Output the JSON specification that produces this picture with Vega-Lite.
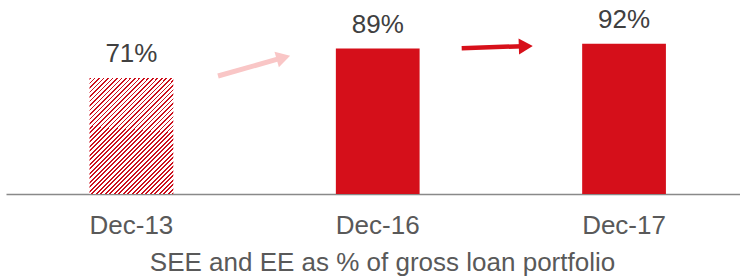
{
  "$schema": "https://vega.github.io/schema/vega-lite/v6.json",
  "autosize": "none",
  "width": 734,
  "height": 194,
  "padding": {"left": 6, "right": 0, "top": 0, "bottom": 84},
  "background": "#ffffff",
  "config": {"view": {"stroke": null}, "font": "Liberation Sans"},
  "resolve": {"scale": {"x": "independent"}},
  "layer": [
    {
      "data": {"values": [
        {"period": "Dec-13", "share": 0.71},
        {"period": "Dec-16", "share": 0.89},
        {"period": "Dec-17", "share": 0.92}
      ]},
      "encoding": {
        "x": {
          "field": "period", "type": "nominal", "sort": null,
          "scale": {"paddingInner": 0.66, "paddingOuter": 0.32, "align": 0.53},
          "axis": {
            "title": "SEE and EE as % of gross loan portfolio",
            "labelAngle": 0, "ticks": false, "grid": false,
            "domainColor": "#898989", "domainWidth": 1.5,
            "labelFont": "Liberation Sans", "labelFontSize": 26, "labelColor": "#595959", "labelPadding": 18,
            "titleFont": "Liberation Sans", "titleFontSize": 26, "titleColor": "#595959", "titleFontWeight": "normal",
            "titlePadding": 11, "titleX": 376
          }
        },
        "y": {"field": "share", "type": "quantitative", "scale": {"domain": [0, 1.187], "nice": false, "zero": true}, "axis": null}
      },
      "layer": [
        {
          "mark": {"type": "bar"},
          "encoding": {
            "color": {
              "condition": {
                "test": "datum.period === 'Dec-13'",
                "value": {
                  "gradient": "linear", "x1": 0, "y1": 0, "x2": 0.84, "y2": 1.16,
                  "stops": [
                    {"offset": 0, "color": "#cc0f1c"}, {"offset": 0.009, "color": "#cc0f1c"}, {"offset": 0.009, "color": "#ffffff"}, {"offset": 0.022, "color": "#ffffff"},
                    {"offset": 0.022, "color": "#cc0f1c"}, {"offset": 0.031, "color": "#cc0f1c"}, {"offset": 0.031, "color": "#ffffff"}, {"offset": 0.044, "color": "#ffffff"},
                    {"offset": 0.044, "color": "#cc0f1c"}, {"offset": 0.053, "color": "#cc0f1c"}, {"offset": 0.053, "color": "#ffffff"}, {"offset": 0.066, "color": "#ffffff"},
                    {"offset": 0.066, "color": "#cc0f1c"}, {"offset": 0.075, "color": "#cc0f1c"}, {"offset": 0.075, "color": "#ffffff"}, {"offset": 0.088, "color": "#ffffff"},
                    {"offset": 0.088, "color": "#cc0f1c"}, {"offset": 0.097, "color": "#cc0f1c"}, {"offset": 0.097, "color": "#ffffff"}, {"offset": 0.11, "color": "#ffffff"},
                    {"offset": 0.11, "color": "#cc0f1c"}, {"offset": 0.119, "color": "#cc0f1c"}, {"offset": 0.119, "color": "#ffffff"}, {"offset": 0.132, "color": "#ffffff"},
                    {"offset": 0.132, "color": "#cc0f1c"}, {"offset": 0.141, "color": "#cc0f1c"}, {"offset": 0.141, "color": "#ffffff"}, {"offset": 0.154, "color": "#ffffff"},
                    {"offset": 0.154, "color": "#cc0f1c"}, {"offset": 0.163, "color": "#cc0f1c"}, {"offset": 0.163, "color": "#ffffff"}, {"offset": 0.176, "color": "#ffffff"},
                    {"offset": 0.176, "color": "#cc0f1c"}, {"offset": 0.185, "color": "#cc0f1c"}, {"offset": 0.185, "color": "#ffffff"}, {"offset": 0.198, "color": "#ffffff"},
                    {"offset": 0.198, "color": "#cc0f1c"}, {"offset": 0.207, "color": "#cc0f1c"}, {"offset": 0.207, "color": "#ffffff"}, {"offset": 0.22, "color": "#ffffff"},
                    {"offset": 0.22, "color": "#cc0f1c"}, {"offset": 0.229, "color": "#cc0f1c"}, {"offset": 0.229, "color": "#ffffff"}, {"offset": 0.242, "color": "#ffffff"},
                    {"offset": 0.242, "color": "#cc0f1c"}, {"offset": 0.251, "color": "#cc0f1c"}, {"offset": 0.251, "color": "#ffffff"}, {"offset": 0.264, "color": "#ffffff"},
                    {"offset": 0.264, "color": "#cc0f1c"}, {"offset": 0.273, "color": "#cc0f1c"}, {"offset": 0.273, "color": "#ffffff"}, {"offset": 0.286, "color": "#ffffff"},
                    {"offset": 0.286, "color": "#cc0f1c"}, {"offset": 0.295, "color": "#cc0f1c"}, {"offset": 0.295, "color": "#ffffff"}, {"offset": 0.308, "color": "#ffffff"},
                    {"offset": 0.308, "color": "#cc0f1c"}, {"offset": 0.317, "color": "#cc0f1c"}, {"offset": 0.317, "color": "#ffffff"}, {"offset": 0.33, "color": "#ffffff"},
                    {"offset": 0.33, "color": "#cc0f1c"}, {"offset": 0.339, "color": "#cc0f1c"}, {"offset": 0.339, "color": "#ffffff"}, {"offset": 0.352, "color": "#ffffff"},
                    {"offset": 0.352, "color": "#cc0f1c"}, {"offset": 0.361, "color": "#cc0f1c"}, {"offset": 0.361, "color": "#ffffff"}, {"offset": 0.374, "color": "#ffffff"},
                    {"offset": 0.374, "color": "#cc0f1c"}, {"offset": 0.383, "color": "#cc0f1c"}, {"offset": 0.383, "color": "#ffffff"}, {"offset": 0.396, "color": "#ffffff"},
                    {"offset": 0.396, "color": "#cc0f1c"}, {"offset": 0.405, "color": "#cc0f1c"}, {"offset": 0.405, "color": "#ffffff"}, {"offset": 0.418, "color": "#ffffff"},
                    {"offset": 0.418, "color": "#cc0f1c"}, {"offset": 0.427, "color": "#cc0f1c"}, {"offset": 0.427, "color": "#ffffff"}, {"offset": 0.44, "color": "#ffffff"},
                    {"offset": 0.44, "color": "#cc0f1c"}, {"offset": 0.449, "color": "#cc0f1c"}, {"offset": 0.449, "color": "#ffffff"}, {"offset": 0.462, "color": "#ffffff"},
                    {"offset": 0.462, "color": "#cc0f1c"}, {"offset": 0.471, "color": "#cc0f1c"}, {"offset": 0.471, "color": "#ffffff"}, {"offset": 0.484, "color": "#ffffff"},
                    {"offset": 0.484, "color": "#cc0f1c"}, {"offset": 0.493, "color": "#cc0f1c"}, {"offset": 0.493, "color": "#ffffff"}, {"offset": 0.506, "color": "#ffffff"},
                    {"offset": 0.506, "color": "#cc0f1c"}, {"offset": 0.515, "color": "#cc0f1c"}, {"offset": 0.515, "color": "#ffffff"}, {"offset": 0.528, "color": "#ffffff"},
                    {"offset": 0.528, "color": "#cc0f1c"}, {"offset": 0.537, "color": "#cc0f1c"}, {"offset": 0.537, "color": "#ffffff"}, {"offset": 0.55, "color": "#ffffff"},
                    {"offset": 0.55, "color": "#cc0f1c"}, {"offset": 0.559, "color": "#cc0f1c"}, {"offset": 0.559, "color": "#ffffff"}, {"offset": 0.572, "color": "#ffffff"},
                    {"offset": 0.572, "color": "#cc0f1c"}, {"offset": 0.581, "color": "#cc0f1c"}, {"offset": 0.581, "color": "#ffffff"}, {"offset": 0.594, "color": "#ffffff"},
                    {"offset": 0.594, "color": "#cc0f1c"}, {"offset": 0.603, "color": "#cc0f1c"}, {"offset": 0.603, "color": "#ffffff"}, {"offset": 0.616, "color": "#ffffff"},
                    {"offset": 0.616, "color": "#cc0f1c"}, {"offset": 0.625, "color": "#cc0f1c"}, {"offset": 0.625, "color": "#ffffff"}, {"offset": 0.638, "color": "#ffffff"},
                    {"offset": 0.638, "color": "#cc0f1c"}, {"offset": 0.647, "color": "#cc0f1c"}, {"offset": 0.647, "color": "#ffffff"}, {"offset": 0.66, "color": "#ffffff"},
                    {"offset": 0.66, "color": "#cc0f1c"}, {"offset": 0.669, "color": "#cc0f1c"}, {"offset": 0.669, "color": "#ffffff"}, {"offset": 0.682, "color": "#ffffff"},
                    {"offset": 0.682, "color": "#cc0f1c"}, {"offset": 0.691, "color": "#cc0f1c"}, {"offset": 0.691, "color": "#ffffff"}, {"offset": 0.704, "color": "#ffffff"},
                    {"offset": 0.704, "color": "#cc0f1c"}, {"offset": 0.713, "color": "#cc0f1c"}, {"offset": 0.713, "color": "#ffffff"}, {"offset": 0.726, "color": "#ffffff"},
                    {"offset": 0.726, "color": "#cc0f1c"}, {"offset": 0.735, "color": "#cc0f1c"}, {"offset": 0.735, "color": "#ffffff"}, {"offset": 0.748, "color": "#ffffff"},
                    {"offset": 0.748, "color": "#cc0f1c"}, {"offset": 0.757, "color": "#cc0f1c"}, {"offset": 0.757, "color": "#ffffff"}, {"offset": 0.77, "color": "#ffffff"},
                    {"offset": 0.77, "color": "#cc0f1c"}, {"offset": 0.779, "color": "#cc0f1c"}, {"offset": 0.779, "color": "#ffffff"}, {"offset": 0.792, "color": "#ffffff"},
                    {"offset": 0.792, "color": "#cc0f1c"}, {"offset": 0.801, "color": "#cc0f1c"}, {"offset": 0.801, "color": "#ffffff"}, {"offset": 0.814, "color": "#ffffff"},
                    {"offset": 0.814, "color": "#cc0f1c"}, {"offset": 0.823, "color": "#cc0f1c"}, {"offset": 0.823, "color": "#ffffff"}, {"offset": 0.836, "color": "#ffffff"},
                    {"offset": 0.836, "color": "#cc0f1c"}, {"offset": 0.845, "color": "#cc0f1c"}, {"offset": 0.845, "color": "#ffffff"}, {"offset": 0.858, "color": "#ffffff"},
                    {"offset": 0.858, "color": "#cc0f1c"}, {"offset": 0.867, "color": "#cc0f1c"}, {"offset": 0.867, "color": "#ffffff"}, {"offset": 0.88, "color": "#ffffff"},
                    {"offset": 0.88, "color": "#cc0f1c"}, {"offset": 0.889, "color": "#cc0f1c"}, {"offset": 0.889, "color": "#ffffff"}, {"offset": 0.902, "color": "#ffffff"},
                    {"offset": 0.902, "color": "#cc0f1c"}, {"offset": 0.911, "color": "#cc0f1c"}, {"offset": 0.911, "color": "#ffffff"}, {"offset": 0.924, "color": "#ffffff"},
                    {"offset": 0.924, "color": "#cc0f1c"}, {"offset": 0.933, "color": "#cc0f1c"}, {"offset": 0.933, "color": "#ffffff"}, {"offset": 0.946, "color": "#ffffff"},
                    {"offset": 0.946, "color": "#cc0f1c"}, {"offset": 0.955, "color": "#cc0f1c"}, {"offset": 0.955, "color": "#ffffff"}, {"offset": 0.968, "color": "#ffffff"},
                    {"offset": 0.968, "color": "#cc0f1c"}, {"offset": 0.977, "color": "#cc0f1c"}, {"offset": 0.977, "color": "#ffffff"}, {"offset": 0.99, "color": "#ffffff"},
                    {"offset": 0.99, "color": "#cc0f1c"}, {"offset": 0.999, "color": "#cc0f1c"}, {"offset": 0.999, "color": "#ffffff"}, {"offset": 1, "color": "#ffffff"}
                  ]
                }
              },
              "value": "#d50f1a"
            }
          }
        },
        {
          "mark": {"type": "text", "baseline": "alphabetic", "dy": -16, "fontSize": 26, "font": "Liberation Sans", "color": "#404040"},
          "encoding": {"text": {"field": "share", "type": "quantitative", "format": ".0%"}}
        }
      ]
    },
    {
      "layer": [
        {
          "data": {"values": [{"from": "Dec-13", "to": "Dec-16", "x": 0.8665, "y": 0.722, "x2": 1.124, "y2": 0.831, "hx": 1.1338, "hy": 0.835}]},
          "encoding": {
            "x": {"field": "x", "type": "quantitative", "scale": {"domain": [0, 3], "nice": false, "zero": false}, "axis": null},
            "y": {"field": "y", "type": "quantitative", "scale": {"domain": [0, 1.187], "nice": false, "zero": true}, "axis": null}
          },
          "layer": [
            {"mark": {"type": "rule", "color": "#f9c6c6", "strokeWidth": 5, "strokeCap": "butt"},
             "encoding": {"x2": {"field": "x2"}, "y2": {"field": "y2"}}},
            {"mark": {"type": "point", "shape": "triangle-right", "filled": true, "size": 260, "angle": -15.8, "color": "#f9c6c6", "opacity": 1},
             "encoding": {"x": {"field": "hx", "type": "quantitative"}, "y": {"field": "hy", "type": "quantitative"}}}
          ]
        },
        {
          "data": {"values": [{"from": "Dec-16", "to": "Dec-17", "x": 1.8625, "y": 0.8917, "x2": 2.113, "y2": 0.9045, "hx": 2.1245, "hy": 0.9039}]},
          "encoding": {
            "x": {"field": "x", "type": "quantitative", "scale": {"domain": [0, 3], "nice": false, "zero": false}, "axis": null},
            "y": {"field": "y", "type": "quantitative", "scale": {"domain": [0, 1.187], "nice": false, "zero": true}, "axis": null}
          },
          "layer": [
            {"mark": {"type": "rule", "color": "#d7101a", "strokeWidth": 4.5, "strokeCap": "butt"},
             "encoding": {"x2": {"field": "x2"}, "y2": {"field": "y2"}}},
            {"mark": {"type": "point", "shape": "triangle-right", "filled": true, "size": 260, "angle": -1.8, "color": "#d7101a", "opacity": 1},
             "encoding": {"x": {"field": "hx", "type": "quantitative"}, "y": {"field": "hy", "type": "quantitative"}}}
          ]
        }
      ]
    }
  ]
}
